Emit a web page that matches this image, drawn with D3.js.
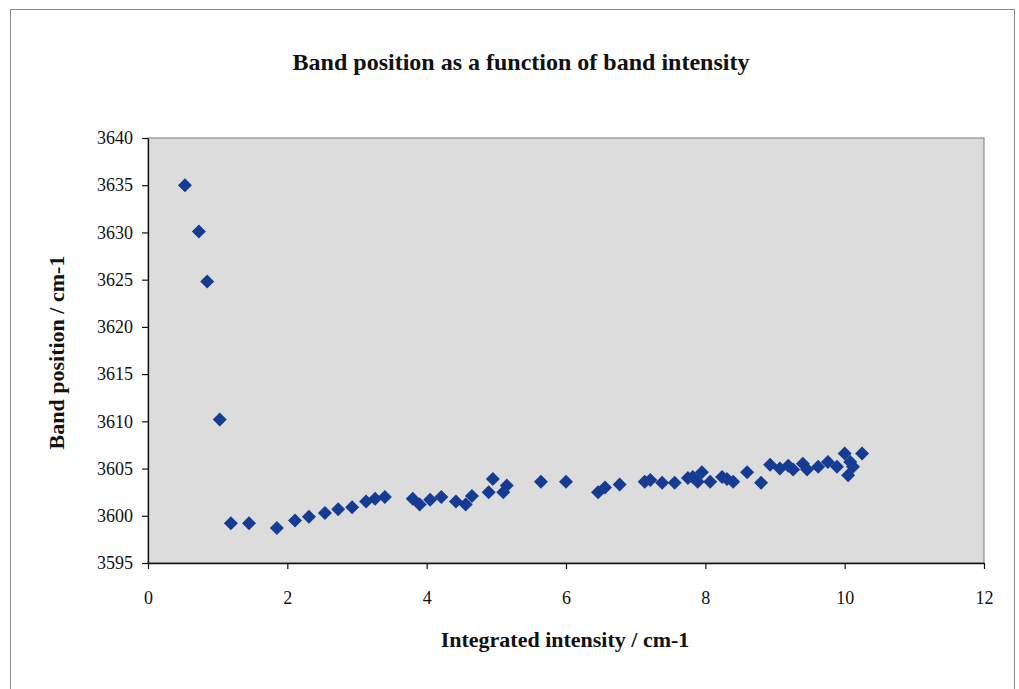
<!DOCTYPE html>
<html>
<head>
<meta charset="utf-8">
<script src="https://cdn.jsdelivr.net/npm/d3@7"></script>
<style>
  html, body { margin: 0; padding: 0; background: #fff; }
  svg { display: block; }
</style>
</head>
<body>
<script>
// Integrated intensity (cm-1) of each measured band
const intensity = [
  0.53, 0.73, 0.85, 1.03, 1.19, 1.45, 1.85, 2.11, 2.31, 2.54,
  2.73, 2.93, 3.13, 3.26, 3.40, 3.80, 3.90, 4.05, 4.21, 4.42,
  4.56, 4.65, 4.89, 4.95, 5.10, 5.15, 5.64, 6.00, 6.46, 6.56,
  6.77, 7.13, 7.21, 7.38, 7.56, 7.75, 7.82, 7.89, 7.95, 8.07,
  8.24, 8.31, 8.40, 8.60, 8.80, 8.93, 9.07, 9.19, 9.26, 9.40,
  9.46, 9.62, 9.76, 9.89, 10.00, 10.05, 10.08, 10.12, 10.25
];
// Band position (cm-1) for the same bands
const position = [
  3635.0, 3630.1, 3624.8, 3610.2, 3599.2, 3599.2, 3598.7, 3599.5, 3599.9, 3600.3,
  3600.7, 3600.9, 3601.5, 3601.8, 3602.0, 3601.8, 3601.2, 3601.7, 3602.0, 3601.5,
  3601.2, 3602.1, 3602.5, 3603.9, 3602.5, 3603.2, 3603.6, 3603.6, 3602.5, 3603.0,
  3603.3, 3603.6, 3603.8, 3603.5, 3603.5, 3604.0, 3604.1, 3603.6, 3604.6, 3603.6,
  3604.1, 3603.9, 3603.6, 3604.6, 3603.5, 3605.4, 3605.0, 3605.3, 3604.9, 3605.5,
  3604.9, 3605.2, 3605.7, 3605.2, 3606.6, 3604.3, 3605.7, 3605.2, 3606.6
];
const xTicks = [0, 2, 4, 6, 8, 10, 12];
const yTicks = [3595, 3600, 3605, 3610, 3615, 3620, 3625, 3630, 3635, 3640];

const W = 1019, H = 689;
const plot = { left: 148, right: 984, top: 138, bottom: 563 };
const serif = "'Liberation Serif', 'Times New Roman', serif";

const svg = d3.select("body").append("svg")
  .attr("width", W).attr("height", H);

// outer chart frame
svg.append("rect")
  .attr("x", 10.5).attr("y", 9.5)
  .attr("width", 1004).attr("height", 700)
  .attr("fill", "#fff").attr("stroke", "#8a8a8a").attr("stroke-width", 1);

const x = d3.scaleLinear().domain([0, 12]).range([plot.left, plot.right]);
const y = d3.scaleLinear().domain([3595, 3640]).range([plot.bottom, plot.top]);

// plot area
svg.append("rect")
  .attr("x", plot.left).attr("y", plot.top)
  .attr("width", plot.right - plot.left).attr("height", plot.bottom - plot.top)
  .attr("fill", "#dcdcdc").attr("stroke", "#7a7a7a").attr("stroke-width", 1);

// axes
const xAxis = d3.axisBottom(x).tickValues(xTicks).tickSize(6).tickSizeOuter(0)
  .tickPadding(22).tickFormat(d3.format("d"));
const yAxis = d3.axisLeft(y).tickValues(yTicks).tickSize(6).tickSizeOuter(0)
  .tickPadding(9).tickFormat(d3.format("d"));

const gx = svg.append("g").attr("transform", `translate(0,${plot.bottom})`).call(xAxis);
const gy = svg.append("g").attr("transform", `translate(${plot.left},0)`).call(yAxis);

[gx, gy].forEach(g => {
  g.select(".domain").attr("stroke", "#111").attr("stroke-width", 1.3);
  g.selectAll(".tick line").attr("stroke", "#111").attr("stroke-width", 1.2);
  g.selectAll(".tick text")
    .attr("font-family", serif).attr("font-size", 18).attr("fill", "#111");
});

// data markers (diamonds)
const diamond = d3.symbol().type(d3.symbolDiamond2).size(125);
svg.append("g").selectAll("path")
  .data(intensity.map((v, i) => [v, position[i]]))
  .join("path")
  .attr("d", diamond)
  .attr("transform", d => `translate(${x(d[0])},${y(d[1])})`)
  .attr("fill", "#153b93");

// title
svg.append("text")
  .attr("x", 521).attr("y", 70)
  .attr("text-anchor", "middle")
  .attr("font-family", serif).attr("font-weight", "bold").attr("font-size", 24)
  .attr("fill", "#111")
  .text("Band position as a function of band intensity");

// x axis title
svg.append("text")
  .attr("x", 565).attr("y", 647)
  .attr("text-anchor", "middle")
  .attr("font-family", serif).attr("font-weight", "bold").attr("font-size", 22)
  .attr("fill", "#111")
  .text("Integrated intensity / cm-1");

// y axis title
svg.append("text")
  .attr("transform", `translate(64,${(plot.top + plot.bottom) / 2 + 2}) rotate(-90)`)
  .attr("text-anchor", "middle")
  .attr("font-family", serif).attr("font-weight", "bold").attr("font-size", 22)
  .attr("fill", "#111")
  .text("Band position / cm-1");
</script>
</body>
</html>
